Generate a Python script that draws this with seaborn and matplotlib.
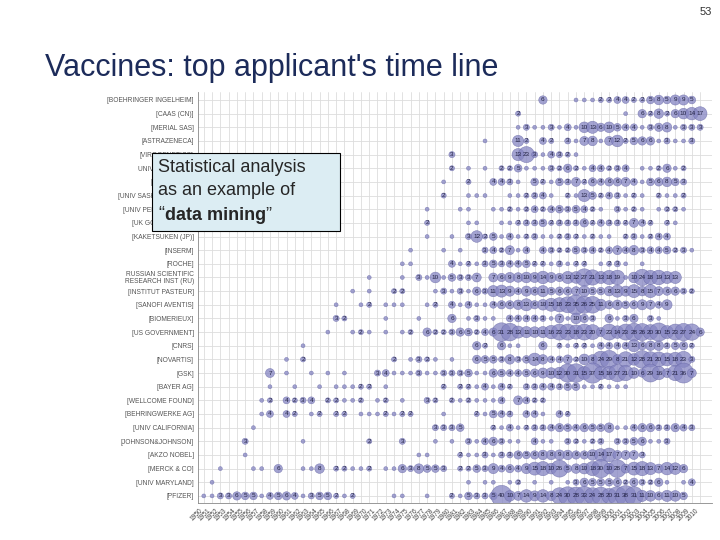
import numpy as np
import pandas as pd
import matplotlib
matplotlib.use('Agg')
import matplotlib.pyplot as plt
from matplotlib.patches import Rectangle
import seaborn as sns

# ─── Données : nombre de dépôts par année (décalage depuis 1950 : nombre) ───
BASE_YEAR = 1950
years = list(range(1950, 2011))

companies = [
    '[BOEHRINGER INGELHEIM]', '[CAAS (CN)]', '[MERIAL SAS]', '[ASTRAZENECA]',
    '[VIROGENETICS]', 'UNIV WISCONSIN', '[UNIV TEXAS]', '[UNIV SASKATCHEWAN]',
    '[UNIV PENNSYLVANIA]', '[UK GOVERNMENT]', '[KAKETSUKEN (JP)]', '[INSERM]',
    '[ROCHE]', 'RUSSIAN SCIENTIFIC\nRESEARCH INST (RU)', '[INSTITUT PASTEUR]',
    '[SANOFI AVENTIS]', '[BIOMERIEUX]', '[US GOVERNMENT]', '[CNRS]', '[NOVARTIS]',
    '[GSK]', '[BAYER AG]', '[WELLCOME FOUND]', '[BEHRINGWERKE AG]',
    '[UNIV CALIFORNIA]', '[JOHNSON&JOHNSON]', '[AKZO NOBEL]', '[MERCK & CO]',
    '[UNIV MARYLAND]', '[PFIZER]',
]

rows = [
    "41:6 45:1 46:1 47:1 48:2 49:2 50:4 51:4 52:2 53:2 54:5 55:8 56:5 57:9 58:9 59:5",
    "38:2 51:1 53:6 54:2 55:8 56:2 57:6 58:10 59:14 60:17",
    "38:1 39:3 40:1 41:1 42:3 43:1 44:4 45:1 46:10 47:13 48:6 49:10 50:5 51:4 52:4 53:1 54:3 55:6 56:8 57:1 58:3 59:3 60:3",
    "34:1 38:11 39:2 41:4 42:2 44:3 45:1 46:7 47:8 48:1 49:7 50:12 51:2 52:5 53:6 54:6 55:1 56:3 57:1 58:1 59:3",
    "30:3 38:13 39:23 40:3 41:1 42:4 43:3 44:2 45:1",
    "30:2 32:1 34:1 36:2 37:2 38:5 39:1 40:1 41:1 42:3 43:2 44:6 45:2 46:1 47:4 48:4 49:2 50:3 51:4 53:1 54:1 55:2 56:6 57:1 58:2",
    "29:1 32:2 35:4 36:4 37:3 38:1 40:5 41:2 42:1 43:5 44:3 45:7 46:2 47:6 48:4 49:6 50:6 51:7 52:4 53:1 54:5 55:6 56:8 57:5 58:3",
    "29:2 32:1 33:1 34:1 37:1 38:1 39:2 40:3 41:4 42:1 44:2 45:1 46:13 47:5 48:2 49:4 50:3 51:1 52:2 53:1 55:2 56:1 57:1 58:2",
    "27:1 31:1 32:1 35:1 36:1 37:2 38:1 39:2 40:4 41:2 42:4 43:5 44:3 45:5 46:4 47:2 48:1 50:3 51:1 52:2 53:1 55:1 56:2 57:2 58:1",
    "27:2 32:1 33:1 36:1 37:1 38:2 39:3 40:3 41:5 42:2 43:3 44:3 45:3 46:6 47:2 48:4 49:3 50:3 51:2 52:7 53:4 54:2 56:2 57:1",
    "27:1 30:1 32:3 33:12 34:2 35:5 36:1 37:4 38:1 39:2 40:3 41:1 42:1 43:2 44:3 45:2 46:1 47:2 48:1 49:1 51:2 52:3 53:1 54:2 55:4 56:4",
    "25:1 29:1 31:1 34:3 35:4 36:2 37:7 38:1 39:4 41:4 42:3 43:2 44:2 45:5 46:3 47:4 48:2 49:4 50:7 51:4 52:8 53:3 54:4 55:4 56:5 57:2 58:3 59:1",
    "24:1 25:1 30:4 31:1 32:2 33:1 34:3 35:5 36:3 37:4 38:4 39:5 40:2 41:2 42:1 43:3 44:1 45:2 46:2 48:1 49:2 50:3 51:1 53:1",
    "20:1 24:1 26:3 27:1 28:10 29:1 30:5 31:3 32:3 33:7 35:7 36:6 37:9 38:8 39:10 40:9 41:14 42:9 43:6 44:13 45:12 46:27 47:21 48:13 49:18 50:19 51:1 52:10 53:24 54:18 55:19 56:13 57:13",
    "18:1 20:1 23:2 24:2 28:1 29:3 30:1 31:3 32:1 33:6 34:3 35:11 36:13 37:9 38:4 39:9 40:6 41:11 42:5 43:6 44:6 45:7 46:10 47:5 48:5 49:8 50:13 51:9 52:15 53:8 54:15 55:7 56:6 57:6 58:3 59:2",
    "16:1 19:1 20:2 22:1 23:1 24:1 27:1 28:2 30:4 31:1 32:4 33:1 34:1 35:4 36:6 37:6 38:8 39:13 40:6 41:10 42:15 43:18 44:23 45:35 46:26 47:25 48:11 49:6 50:8 51:5 52:6 53:9 54:7 55:4 56:9",
    "16:3 17:2 22:1 26:1 30:6 32:1 33:3 34:1 35:1 37:4 38:4 39:4 40:4 41:3 42:1 43:7 44:1 45:10 46:6 47:3 49:6 50:1 51:3 52:6 54:3 55:1",
    "15:1 18:1 19:2 20:1 22:1 24:1 25:2 27:6 28:2 29:2 30:3 31:6 32:5 33:2 34:4 35:6 36:31 37:28 38:13 39:11 40:10 41:11 42:16 43:23 44:23 45:18 46:23 47:20 48:7 49:23 50:14 51:23 52:28 53:26 54:20 55:30 56:15 57:23 58:27 59:24 60:6",
    "12:1 33:6 34:2 36:6 37:1 38:1 41:6 43:2 44:1 45:2 46:2 47:1 48:4 49:4 50:4 51:4 52:13 53:6 54:8 55:8 56:3 57:5 58:6 59:2",
    "10:1 12:2 23:2 25:1 26:3 27:2 28:1 30:1 33:6 34:5 35:5 36:3 37:8 38:3 39:5 40:14 41:8 42:4 43:4 44:7 45:2 46:10 47:8 48:24 49:29 50:8 51:21 52:12 53:28 54:21 55:20 56:15 57:18 58:23 59:3",
    "8:7 10:1 13:1 15:1 17:1 21:3 22:4 23:1 24:1 25:1 26:3 27:1 28:1 29:3 30:3 31:3 32:5 33:1 34:1 35:6 36:5 37:4 38:4 39:5 40:6 41:9 42:10 43:12 44:30 45:31 46:15 47:37 48:15 49:16 50:27 51:21 52:10 53:6 54:29 55:16 56:7 57:21 58:36 59:7",
    "8:1 11:1 14:1 16:1 17:1 18:1 19:2 20:2 22:1 29:2 31:2 32:2 33:1 34:4 35:1 36:4 37:2 39:3 40:3 41:4 42:4 43:3 44:5 45:5 46:1 47:1 48:2 49:1 50:1 51:1",
    "7:1 8:2 10:4 11:2 12:3 13:4 15:2 16:2 17:1 18:1 19:2 21:1 22:2 24:1 27:3 28:2 30:2 31:1 32:2 33:1 34:1 35:1 36:4 38:7 39:4 40:2 41:2",
    "7:1 8:4 10:4 11:2 13:1 14:2 16:2 17:2 19:1 20:1 21:1 22:2 23:1 24:2 25:2 29:1 33:2 34:1 35:5 36:4 37:3 39:4 40:4 41:1 43:4 44:2",
    "6:1 28:3 29:3 30:3 31:5 35:2 36:1 37:4 38:1 39:2 40:3 41:3 42:4 43:6 44:5 45:4 46:6 47:5 48:5 49:8 50:1 51:1 52:4 53:6 54:6 55:3 56:3 57:6 58:4 59:3",
    "5:3 12:1 20:2 24:3 28:1 30:1 32:3 33:1 34:4 35:6 36:3 37:1 38:1 40:4 41:1 42:1 44:3 45:2 46:1 47:2 48:3 50:3 51:3 52:5 53:6 54:1 55:1 56:3",
    "5:1 26:1 27:1 31:2 32:1 33:1 34:3 35:1 36:3 37:3 38:6 39:5 40:6 41:8 42:8 43:9 44:8 45:6 46:6 47:10 48:14 49:17 50:7 51:7 52:7 53:3",
    "2:1 6:1 7:1 9:6 12:1 13:1 14:8 16:2 17:2 18:1 19:1 20:2 22:1 23:1 24:6 25:3 26:8 27:5 28:5 29:3 31:2 32:2 33:5 34:3 35:9 36:4 37:6 38:4 39:9 40:15 41:18 42:10 43:26 44:5 45:8 46:10 47:18 48:30 49:10 50:28 51:7 52:15 53:18 54:13 55:7 56:14 57:12 58:6",
    "1:1 32:1 34:1 35:1 37:1 38:2 40:1 42:1 44:1 45:3 46:6 47:5 48:5 49:5 50:6 51:2 52:6 53:3 54:2 55:6 56:1 58:1 59:4",
    "0:1 1:1 2:3 3:3 4:6 5:5 6:5 7:1 8:4 9:5 10:6 11:4 12:1 13:3 14:5 15:5 16:2 17:1 18:2 23:1 24:1 27:1 30:2 31:1 32:5 33:3 34:3 35:5 36:40 37:10 38:7 39:14 40:9 41:14 42:8 43:24 44:30 45:28 46:33 47:24 48:28 49:20 50:31 51:38 52:31 53:11 54:10 55:6 56:11 57:10 58:5",
]

recs = []
for r, (name, s) in enumerate(zip(companies, rows)):
    for tok in s.split():
        off, n = tok.split(':')
        recs.append({'row': r, 'year': BASE_YEAR + int(off), 'count': int(n)})
df = pd.DataFrame(recs)

# ─── Figure ──────────────────────────────────────────────────────────────────
sns.set_style('white')
plt.rcParams['font.family'] = ['Liberation Sans', 'DejaVu Sans']

fig = plt.figure(figsize=(7.2, 5.4), dpi=100)
ax = fig.add_axes([0.275, 0.069, 0.714, 0.761])

for y in years:
    ax.axvline(y, color='#dddddd', lw=0.6, zorder=0)
for r in range(len(companies)):
    ax.axhline(r, color='#dddddd', lw=0.6, zorder=0)

sns.scatterplot(data=df, x='year', y='row', size='count', sizes=(8, 230),
                size_norm=(1, 40), color='#8585c2', edgecolor='#6a6aa8',
                linewidth=0.4, alpha=0.75, legend=False, ax=ax, zorder=2)

for _, rec in df[df['count'] > 1].iterrows():
    ax.text(rec['year'], rec['row'], str(rec['count']), ha='center', va='center',
            fontsize=4.6, color='#222244', zorder=3)

ax.set_xlim(1949.3, 2011.45)
ax.set_ylim(len(companies) - 0.5, -0.6)
ax.set_xticks(years)
ax.set_xticklabels([str(y) for y in years], rotation=45, ha='right',
                   fontsize=4.8, color='#444444')
ax.set_yticks(range(len(companies)))
ax.set_yticklabels(companies, fontsize=4.8, color='#555555', linespacing=0.9)
ax.tick_params(axis='both', length=2, width=0.5, color='#888888', pad=1)
ax.set_xlabel('')
ax.set_ylabel('')
for sp in ['top', 'right']:
    ax.spines[sp].set_visible(False)
for sp in ['left', 'bottom']:
    ax.spines[sp].set_color('#888888')
    ax.spines[sp].set_linewidth(0.6)

# Titre et numéro de page
fig.text(45 / 720, 1 - 68 / 540, "Vaccines: top applicant's time line",
         fontsize=22, color='#1c2b5a', va='center', ha='left')
fig.text(712 / 720, 1 - 12 / 540, '53', fontsize=8, color='#333333',
         ha='right', va='center')

# Encadré
fig.patches.append(Rectangle((152 / 720, 1 - 231 / 540), 188 / 720, 78 / 540,
                             transform=fig.transFigure, facecolor='#dcedf3',
                             edgecolor='black', lw=0.8, zorder=10))
fig.text(158 / 720, 1 - 168 / 540, 'Statistical analysis', fontsize=13,
         va='center', zorder=11)
fig.text(158 / 720, 1 - 191 / 540, 'as an example of', fontsize=13,
         va='center', zorder=11)
fig.text(158 / 720, 1 - 215 / 540, '\u201c', fontsize=13, va='center', zorder=11)
fig.text(165 / 720, 1 - 215 / 540, 'data mining', fontsize=13, va='center',
         fontweight='bold', zorder=11)
fig.text(265 / 720, 1 - 215 / 540, '\u201d', fontsize=13, va='center', zorder=11)

plt.savefig('out.png', dpi=100)
plt.close()
